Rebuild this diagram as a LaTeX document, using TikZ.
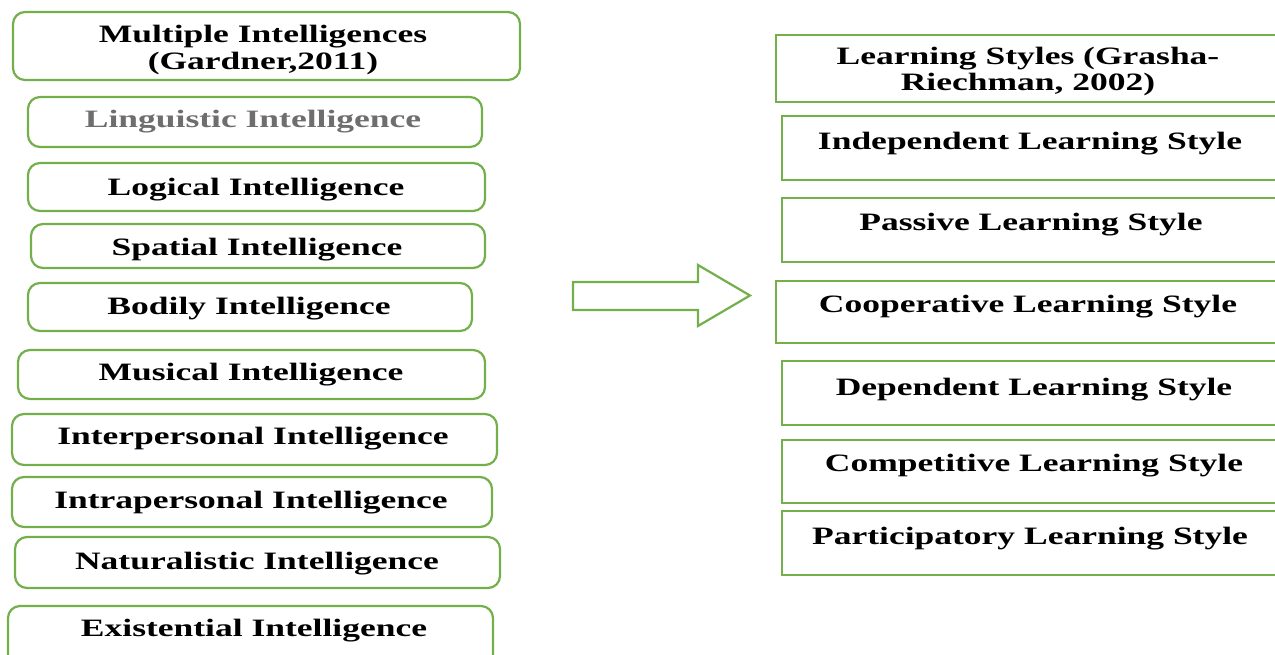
\documentclass[tikz,border=0pt]{standalone}
\usepackage{fontspec}
\setmainfont{Liberation Serif}[FakeStretch=1.42]
\definecolor{boxgreen}{RGB}{115,175,75}
\definecolor{txtgray}{RGB}{110,110,110}
\newcommand{\mybox}[6]{\node[#6, minimum width={#4-#2}, minimum height={#5-#3}] (#1) at ({(#2+#4)/2},{-(#3+#5)/2}) {};}
\tikzset{
  rbox/.style={draw=boxgreen, line width=2.2pt, rounded corners=12pt, inner sep=0pt, fill=white},
  sbox/.style={draw=boxgreen, line width=2.2pt, inner sep=0pt, fill=white},
  txt/.style={inner sep=0pt, anchor=base, font=\fontsize{25}{29}\selectfont\bfseries, text=black},
  blockarrow/.style={draw=boxgreen, line width=2.2pt, fill=white, line join=miter}
}
\begin{document}
\begin{tikzpicture}[x=1pt,y=1pt]
\clip (0,0) rectangle (1275,-654);
\fill[white] (0,0) rectangle (1275,-654);
% left column
\mybox{mi}{13}{12}{520}{80}{rbox}
\mybox{l1}{28}{97}{482}{147}{rbox}
\mybox{l2}{28}{163}{485}{211}{rbox}
\mybox{l3}{31}{224}{485}{268}{rbox}
\mybox{l4}{28}{283}{472}{331}{rbox}
\mybox{l5}{18}{350}{485}{399}{rbox}
\mybox{l6}{12}{414}{497}{465}{rbox}
\mybox{l7}{12}{477}{492}{527}{rbox}
\mybox{l8}{15}{537}{500}{588}{rbox}
\mybox{l9}{8}{606}{493}{672}{rbox}
\node[txt] (tmi1) at (263,-42.5) {Multiple Intelligences};
\node[txt] (tmi2) at (263,-69.5) {(Gardner,2011)};
\node[txt, text=txtgray] (tl1) at (253,-127.5) {Linguistic Intelligence};
\node[txt] (tl2) at (256,-195.5) {Logical Intelligence};
\node[txt] (tl3) at (257,-255.5) {Spatial Intelligence};
\node[txt] (tl4) at (249,-314.5) {Bodily Intelligence};
\node[txt] (tl5) at (251,-380.5) {Musical Intelligence};
\node[txt] (tl6) at (253,-444.5) {Interpersonal Intelligence};
\node[txt] (tl7) at (251,-508.5) {Intrapersonal Intelligence};
\node[txt] (tl8) at (257,-569.5) {Naturalistic Intelligence};
\node[txt] (tl9) at (254,-636.5) {Existential Intelligence};
% block arrow
\draw[blockarrow] (573,-282) -- (698,-282) -- (698,-265) -- (750,-295.5) -- (698,-326) -- (698,-310) -- (573,-310) -- cycle;
% right column
\mybox{ls}{776}{35}{1290}{102}{sbox}
\mybox{r1}{782}{116}{1290}{180}{sbox}
\mybox{r2}{782}{198}{1290}{262}{sbox}
\mybox{r3}{776}{281}{1290}{343}{sbox}
\mybox{r4}{782}{361}{1290}{425}{sbox}
\mybox{r5}{782}{440}{1290}{503}{sbox}
\mybox{r6}{782}{511}{1290}{575}{sbox}
\node[txt] (tls1) at (1028,-64.5) {Learning Styles (Grasha-};
\node[txt] (tls2) at (1028,-90.5) {Riechman, 2002)};
\node[txt] (tr1) at (1030,-149.5) {Independent Learning Style};
\node[txt] (tr2) at (1031,-230.5) {Passive Learning Style};
\node[txt] (tr3) at (1028,-312.5) {Cooperative Learning Style};
\node[txt] (tr4) at (1034,-395.5) {Dependent Learning Style};
\node[txt] (tr5) at (1034,-471.5) {Competitive Learning Style};
\node[txt] (tr6) at (1030,-544.5) {Participatory Learning Style};
\end{tikzpicture}
\end{document}
